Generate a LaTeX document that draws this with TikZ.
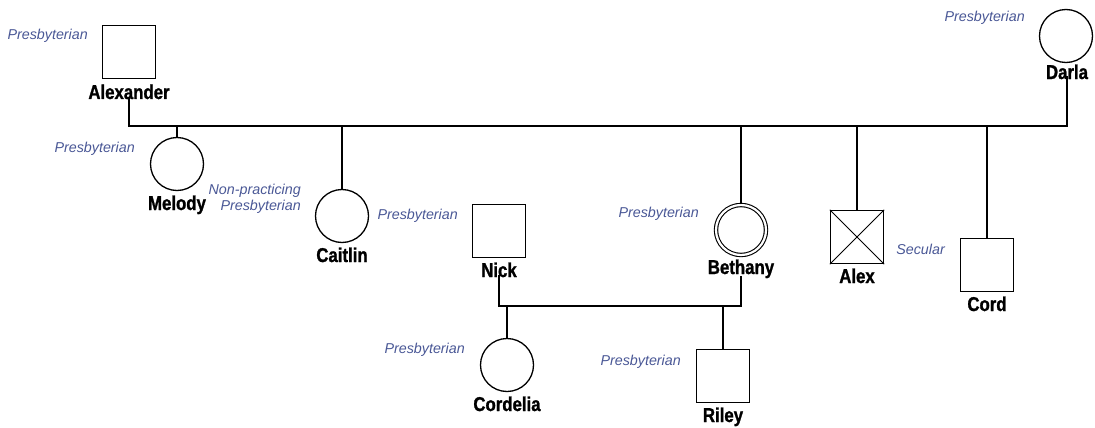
\documentclass[tikz,border=0pt]{standalone}
\usepackage{fontspec}
\setmainfont{Liberation Sans}
\newfontfamily\namefont{Liberation Sans}[FakeStretch=0.84,BoldFeatures={FakeBold=1.2}]
\definecolor{faithblue}{RGB}{74,88,150}
\tikzset{
  conn/.style={line width=2.6pt,line cap=rect},
  person/.style={draw,line width=1.3pt,inner sep=0pt,minimum size=53pt},
  maleshape/.style={person,rectangle},
  femaleshape/.style={person,circle},
  pname/.style={inner sep=0pt,anchor=base,font=\namefont\bfseries\fontsize{20}{20}\selectfont},
  faith/.style={inner sep=0pt,anchor=base east,text=faithblue,font=\itshape\fontsize{14.3}{16}\selectfont}
}
\begin{document}
\begin{tikzpicture}[x=1pt,y=-1pt]
\useasboundingbox (0,0) rectangle (1095,428);

% first generation
\node[maleshape] (alexander) at (129,52) {};
\node[pname] (alexandern) at (129,99) {Alexander};
\node[faith] (alexanderf) at (88,40) {Presbyterian};
\node[femaleshape] (darla) at (1066,36) {};
\node[pname] (darlan) at (1067,79) {Darla};
\node[faith] (darlaf) at (1025,22) {Presbyterian};

% second generation
\node[femaleshape] (melody) at (177,164) {};
\node[pname] (melodyn) at (177,210) {Melody};
\node[faith] (melodyf) at (135,152) {Presbyterian};
\node[femaleshape] (caitlin) at (342,216) {};
\node[pname] (caitlinn) at (342,262) {Caitlin};
\node[faith,align=right,anchor=east] (caitlinf) at (301,199) {Non-practicing\\Presbyterian};
\node[maleshape] (nick) at (499,231) {};
\node[pname] (nickn) at (499,277) {Nick};
\node[faith] (nickf) at (458,219) {Presbyterian};
\node[femaleshape,minimum size=50pt,double,double distance=2.2pt,line width=1.1pt] (bethany) at (741,230) {};
\node[pname] (bethanyn) at (741,274) {Bethany};
\node[faith] (bethanyf) at (699,217) {Presbyterian};
\node[maleshape] (alex) at (857,237) {};
\draw[line width=1pt] (alex.north west) -- (alex.south east) (alex.north east) -- (alex.south west);
\node[pname] (alexn) at (857,283) {Alex};
\node[maleshape] (cord) at (987,265) {};
\node[pname] (cordn) at (987,311) {Cord};
\node[faith] (cordf) at (945,254) {Secular};

% third generation
\node[femaleshape] (cordelia) at (507,365) {};
\node[pname] (cordelian) at (507,411) {Cordelia};
\node[faith] (cordeliaf) at (465,353) {Presbyterian};
\node[maleshape] (riley) at (723,376) {};
\node[pname] (rileyn) at (723,422) {Riley};
\node[faith] (rileyf) at (681,365) {Presbyterian};

% marriage lines
\coordinate (m1l) at (129,126);
\coordinate (m1r) at (1067,126);
\coordinate (m2l) at (499,306);
\coordinate (m2r) at (741,306);
\draw[conn] ([yshift=1pt]alexandern.south) -- (m1l) -- (m1r) -- ([yshift=2pt]darlan.south);
\draw[conn] ([yshift=1pt]nickn.south) -- (m2l) -- (m2r) -- ([yshift=1pt]bethanyn.south);

% lines of descent
\foreach \c in {melody,caitlin,bethany,alex,cord}
  \draw[conn,line cap=butt] (\c.north) -- (\c.north |- m1l);
\foreach \c in {cordelia,riley}
  \draw[conn,line cap=butt] (\c.north) -- (\c.north |- m2l);
\end{tikzpicture}
\end{document}
